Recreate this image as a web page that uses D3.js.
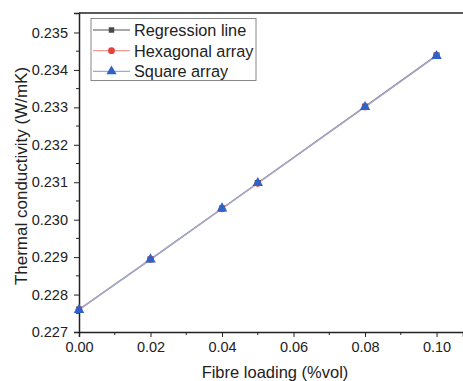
<!DOCTYPE html>
<html>
<head>
<meta charset="utf-8">
<script src="https://cdn.jsdelivr.net/npm/d3@7"></script>
<style>
  body { margin: 0; background: #fff; }
  text { font-family: "Liberation Sans", Arial, sans-serif; fill: #222; }
</style>
</head>
<body>
<svg id="chart" width="463" height="381"></svg>
<script>
// data
var loading = [0.00, 0.02, 0.04, 0.05, 0.08, 0.10];
var regression = [0.22760, 0.22894, 0.23030, 0.23098, 0.23302, 0.23439];
var hexagonal = [0.22760, 0.22894, 0.23029, 0.23097, 0.23301, 0.23438];
var square = [0.22759, 0.22894, 0.23030, 0.23098, 0.23301, 0.23437];
var xTicks = [0.00, 0.02, 0.04, 0.06, 0.08, 0.10];
var yTicks = [0.227, 0.228, 0.229, 0.230, 0.231, 0.232, 0.233, 0.234, 0.235];
var seriesNames = ["Regression line", "Hexagonal array", "Square array"];

var svg = d3.select("#chart");
var plotLeft = 79, plotRight = 463, plotTop = 13, plotBottom = 332;

var x = d3.scaleLinear().domain([0, 0.1074]).range([plotLeft, plotRight]);
var y = d3.scaleLinear().domain([0.227, 0.23552]).range([plotBottom, plotTop]);

// frame (top edge)
svg.append("line")
    .attr("x1", plotLeft).attr("x2", plotRight)
    .attr("y1", plotTop).attr("y2", plotTop)
    .attr("stroke", "#222").attr("stroke-width", 1.5);

// minor ticks
var xMinor = d3.range(0.01, 0.1074, 0.02);
var yMinor = d3.range(0.2275, 0.2355, 0.001);

var xAxis = svg.append("g").attr("transform", "translate(0," + plotBottom + ")");
xAxis.call(d3.axisBottom(x).tickValues(xTicks).tickFormat(d3.format(".2f")).tickSize(5).tickPadding(5));
xAxis.append("g").selectAll("line").data(xMinor).enter().append("line")
    .attr("x1", d => x(d)).attr("x2", d => x(d))
    .attr("y1", 0).attr("y2", 3).attr("stroke", "#222");

var yAxis = svg.append("g").attr("transform", "translate(" + plotLeft + ",0)");
yAxis.call(d3.axisLeft(y).tickValues(yTicks).tickFormat(d3.format(".3f")).tickSize(5).tickPadding(6));
yAxis.append("g").selectAll("line").data(yMinor).enter().append("line")
    .attr("y1", d => y(d)).attr("y2", d => y(d))
    .attr("x1", 0).attr("x2", -3).attr("stroke", "#222");

svg.selectAll(".domain").attr("stroke", "#222").attr("stroke-width", 1.5);
svg.selectAll(".tick line").attr("stroke", "#222");
svg.selectAll(".tick text").style("font-size", "14.5px").attr("fill", "#222");

// axis titles
svg.append("text")
    .attr("x", 275).attr("y", 378)
    .attr("text-anchor", "middle")
    .style("font-size", "16.5px")
    .text("Fibre loading (%vol)");
svg.append("text")
    .attr("transform", "translate(27,176) rotate(-90)")
    .attr("text-anchor", "middle")
    .style("font-size", "17px")
    .text("Thermal conductivity (W/mK)");

// series
var series = [
    { name: seriesNames[0], values: regression, line: "#555", mark: "#4a4a4a", symbol: d3.symbolSquare, size: 36, legendSize: 30 },
    { name: seriesNames[1], values: hexagonal, line: "#f29a98", mark: "#e8403d", symbol: d3.symbolCircle, size: 36, legendSize: 36 },
    { name: seriesNames[2], values: square, line: "#8db0e0", mark: "#2f62c8", symbol: d3.symbolTriangle, size: 48, legendSize: 45 }
];

var line = d3.line()
    .x((d, i) => x(loading[i]))
    .y(d => y(d));

series.forEach(function (s) {
    svg.append("path")
        .attr("d", line(s.values))
        .attr("fill", "none")
        .attr("stroke", s.line)
        .attr("stroke-width", 1.3)
        .attr("opacity", 0.8);
});
series.forEach(function (s) {
    svg.append("g").selectAll("path").data(s.values).enter().append("path")
        .attr("transform", (d, i) => "translate(" + x(loading[i]) + "," + y(d) + ")")
        .attr("d", d3.symbol().type(s.symbol).size(s.size))
        .attr("fill", s.mark);
});

// legend
var legend = svg.append("g");
legend.append("rect")
    .attr("x", 91).attr("y", 18.5)
    .attr("width", 165).attr("height", 62)
    .attr("fill", "#fff").attr("stroke", "#888").attr("stroke-width", 1);
var rows = legend.selectAll("g.row").data(series).enter().append("g")
    .attr("transform", (d, i) => "translate(0," + (30 + i * 20.7) + ")");
rows.append("line")
    .attr("x1", 93).attr("x2", 130)
    .attr("stroke", d => d.line).attr("stroke-width", 1.2);
rows.append("path")
    .attr("transform", "translate(111.5,0)")
    .attr("d", d => d3.symbol().type(d.symbol).size(d.legendSize)())
    .attr("fill", d => d.mark);
rows.append("text")
    .attr("x", 134).attr("dy", "0.36em")
    .style("font-size", "16.3px")
    .text(d => d.name);
</script>
</body>
</html>
